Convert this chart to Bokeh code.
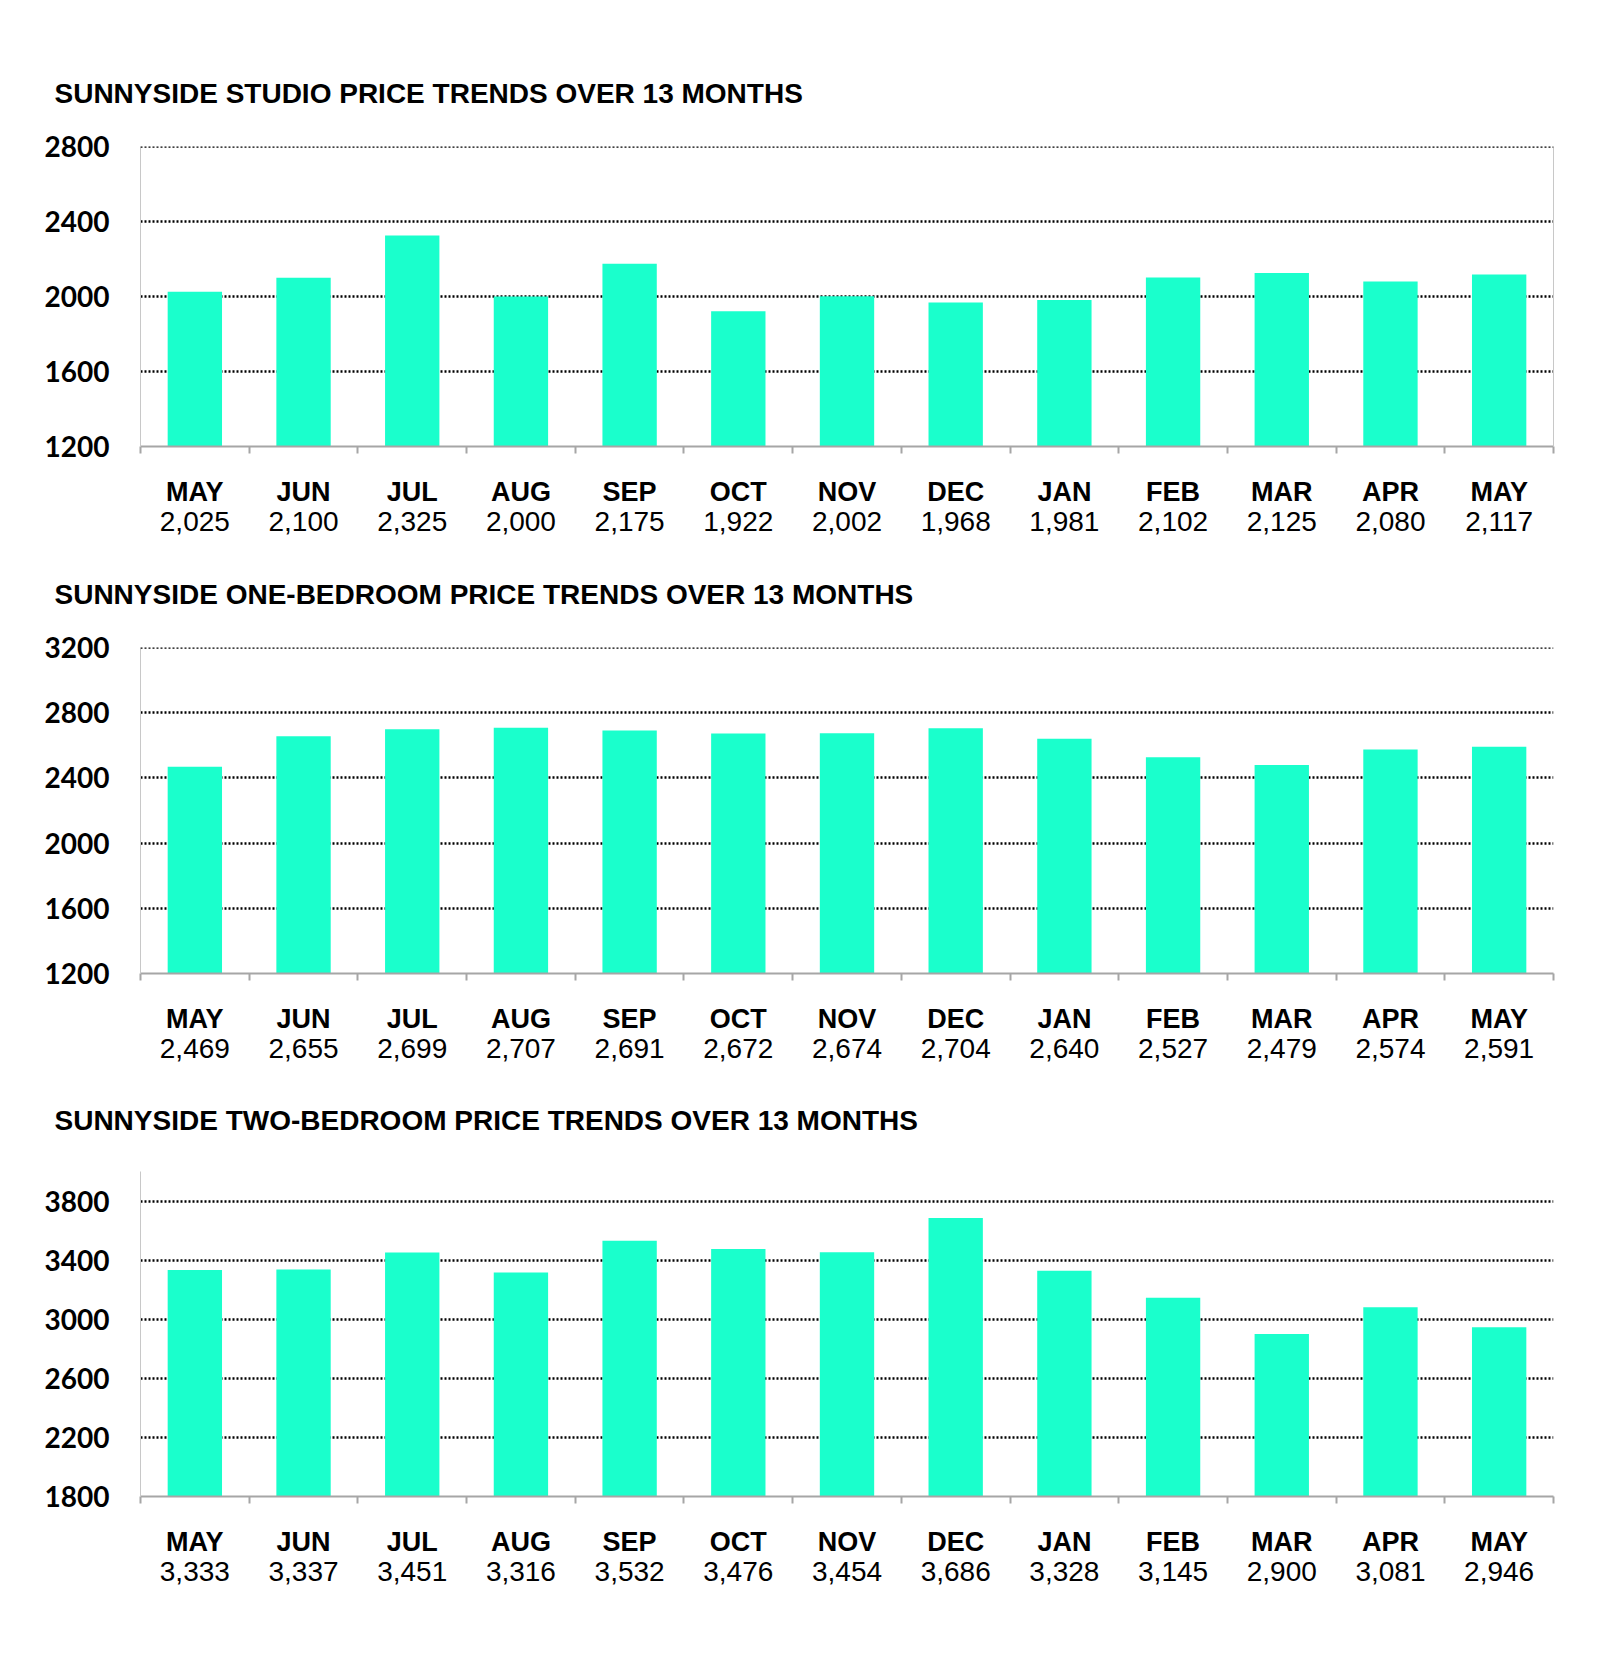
from bokeh.plotting import figure
from bokeh.models import FixedTicker, LinearAxis, Range1d, Span
from bokeh.layouts import column
from bokeh.embed import file_html
from bokeh.resources import INLINE

months = ["MAY", "JUN", "JUL", "AUG", "SEP", "OCT", "NOV", "DEC", "JAN", "FEB", "MAR", "APR", "MAY"]
studio = [2025, 2100, 2325, 2000, 2175, 1922, 2002, 1968, 1981, 2102, 2125, 2080, 2117]
one_bed = [2469, 2655, 2699, 2707, 2691, 2672, 2674, 2704, 2640, 2527, 2479, 2574, 2591]
two_bed = [3333, 3337, 3451, 3316, 3532, 3476, 3454, 3686, 3328, 3145, 2900, 3081, 2946]
studio_ticks = [1200, 1600, 2000, 2400, 2800]
one_bed_ticks = [1200, 1600, 2000, 2400, 2800, 3200]
two_bed_ticks = [1800, 2200, 2600, 3000, 3400, 3800]
titles = [
    "SUNNYSIDE STUDIO PRICE TRENDS OVER 13 MONTHS",
    "SUNNYSIDE ONE-BEDROOM PRICE TRENDS OVER 13 MONTHS",
    "SUNNYSIDE TWO-BEDROOM PRICE TRENDS OVER 13 MONTHS",
]

BAR = "#1affcc"
AXIS_GRAY = "#a6a6a6"
LIGHT_GRAY = "#c8c8c8"
GRID_DASH = "2 2"
GRID_W = 2.5


def make_chart(title, values, yticks, ymax, top_b, frame_h, bot_b, right_border, title_standoff):
    n = len(values)
    xs = list(range(1, n + 1))
    p = figure(frame_width=1413, frame_height=frame_h,
               x_range=Range1d(0.5, n + 0.5), y_range=Range1d(yticks[0], ymax),
               output_backend="svg", toolbar_location=None,
               min_border_left=140, min_border_right=39,
               min_border_top=top_b, min_border_bottom=bot_b)
    p.outline_line_color = None
    p.background_fill_color = "white"
    p.border_fill_color = "white"

    p.vbar(x=xs, top=values, bottom=yticks[0], width=0.5,
           fill_color=BAR, line_color=None)

    # title
    p.title.text = title
    p.title.text_font = "Liberation Sans"
    p.title.text_font_style = "bold"
    p.title.text_font_size = "28px"
    p.title.text_color = "black"
    p.title.align = "left"
    p.title.offset = -86
    p.title.standoff = title_standoff

    # month axis
    ax = p.xaxis[0]
    ax.ticker = FixedTicker(ticks=xs, minor_ticks=[i + 0.5 for i in range(0, n + 1)])
    ax.major_label_overrides = {x: m for x, m in zip(xs, months)}
    ax.major_tick_line_color = None
    ax.major_tick_out = 0
    ax.major_tick_in = 0
    ax.minor_tick_line_color = AXIS_GRAY
    ax.minor_tick_line_width = 2
    ax.minor_tick_out = 7
    ax.minor_tick_in = 0
    ax.axis_line_color = AXIS_GRAY
    ax.axis_line_width = 2
    ax.major_label_text_font = "Liberation Sans"
    ax.major_label_text_font_style = "bold"
    ax.major_label_text_font_size = "27px"
    ax.major_label_text_color = "black"
    ax.major_label_standoff = 23

    # value axis
    ax2 = LinearAxis(ticker=FixedTicker(ticks=xs, minor_ticks=[]))
    ax2.major_label_overrides = {x: f"{v:,}" for x, v in zip(xs, values)}
    ax2.axis_line_color = None
    ax2.major_tick_line_color = None
    ax2.minor_tick_line_color = None
    ax2.major_tick_out = 0
    ax2.major_tick_in = 0
    ax2.minor_tick_out = 0
    ax2.minor_tick_in = 0
    ax2.major_label_text_font = "Liberation Sans"
    ax2.major_label_text_font_style = "normal"
    ax2.major_label_text_font_size = "28px"
    ax2.major_label_text_color = "black"
    ax2.major_label_standoff = 2
    p.add_layout(ax2, "below")

    # y axis
    ya = p.yaxis[0]
    ya.ticker = FixedTicker(ticks=yticks, minor_ticks=[])
    ya.axis_line_color = LIGHT_GRAY
    ya.axis_line_width = 1
    ya.major_tick_line_color = None
    ya.minor_tick_line_color = None
    ya.major_tick_out = 0
    ya.major_tick_in = 0
    ya.major_label_text_font = "Lato"
    ya.major_label_text_font_style = "bold"
    ya.major_label_text_font_size = "28px"
    ya.major_label_text_color = "black"
    ya.major_label_standoff = 31

    p.xgrid.visible = False
    p.ygrid.ticker = FixedTicker(ticks=yticks[1:], minor_ticks=[])
    p.ygrid.grid_line_color = "black"
    p.ygrid.grid_line_width = GRID_W
    p.ygrid.grid_line_dash = GRID_DASH

    if yticks[-1] >= ymax:
        p.add_layout(Span(location=yticks[-1], dimension="width", line_color="black",
                          line_width=GRID_W, line_dash=GRID_DASH))

    if right_border:
        ra = LinearAxis(ticker=FixedTicker(ticks=[], minor_ticks=[]))
        ra.axis_line_color = LIGHT_GRAY
        ra.axis_line_width = 1
        ra.major_tick_line_color = None
        ra.minor_tick_line_color = None
        ra.major_label_text_font_size = "0px"
        p.add_layout(ra, "right")
    return p


p1 = make_chart(titles[0], studio, studio_ticks, 2800, 146, 300, 93, True, 75)
p2 = make_chart(titles[1], one_bed, one_bed_ticks, 3200, 108, 326, 93, False, 75)
p3 = make_chart(titles[2], two_bed, two_bed_ticks, 4000, 105, 325, 109, False, 72)

layout = column(p1, p2, p3, spacing=0)
open("out.html", "w").write(file_html(layout, INLINE))
